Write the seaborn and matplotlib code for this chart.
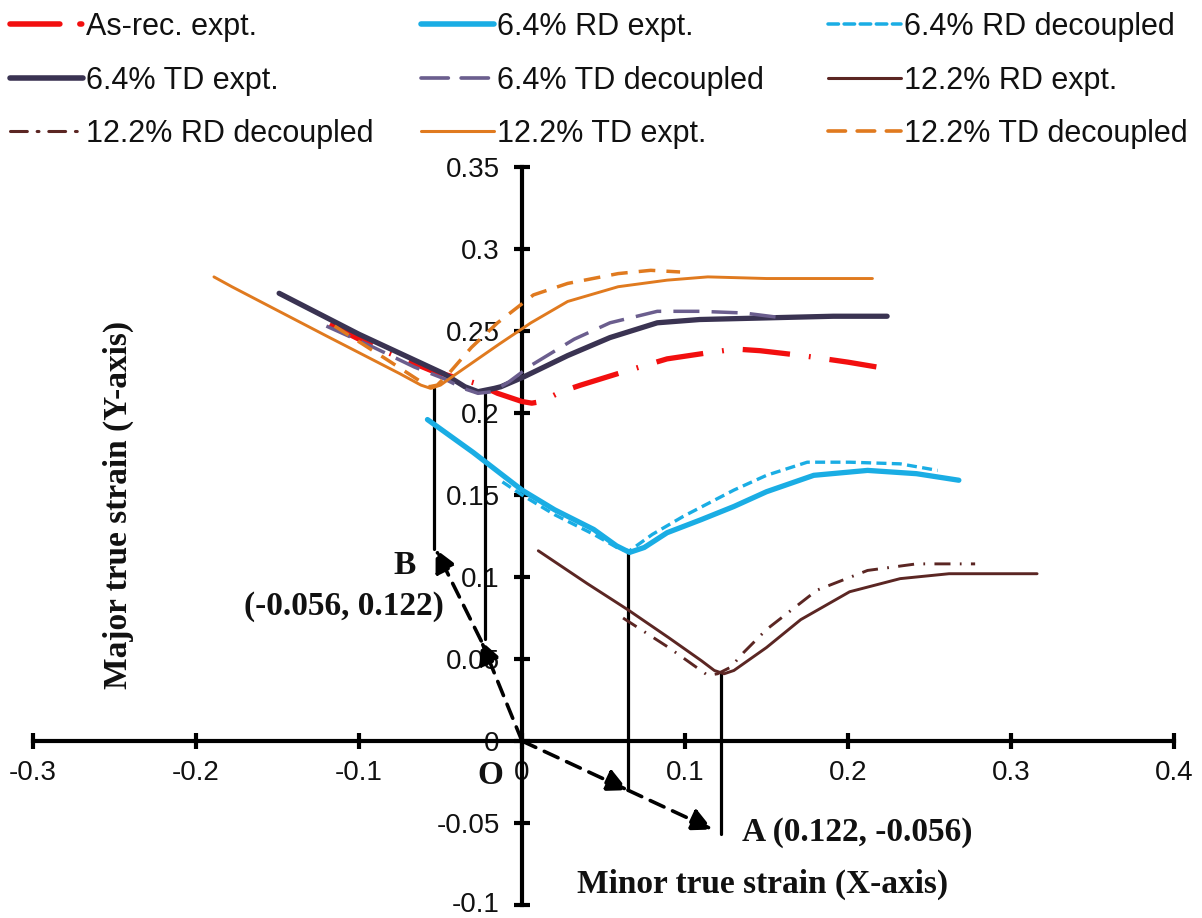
import numpy as np
import pandas as pd
import matplotlib
matplotlib.use("Agg")
import matplotlib.pyplot as plt
import matplotlib.transforms as mtransforms
import seaborn as sns
from matplotlib.lines import Line2D

sns.set_theme(style="white")
plt.rcParams['font.family'] = ['Liberation Sans', 'DejaVu Sans']

# ---------------- data ----------------
asrec_x = [-0.118, -0.090, -0.056, -0.028, -0.015, 0.000, 0.006, 0.012, 0.024, 0.036, 0.062, 0.089, 0.116, 0.131, 0.146, 0.172, 0.200, 0.224]
asrec_y = [0.254, 0.240, 0.226, 0.218, 0.212, 0.207, 0.206, 0.207, 0.213, 0.217, 0.225, 0.233, 0.237, 0.239, 0.238, 0.235, 0.231, 0.227]

rd64_x = [-0.058, -0.030, 0.000, 0.020, 0.044, 0.058, 0.066, 0.075, 0.089, 0.110, 0.130, 0.150, 0.179, 0.212, 0.242, 0.268]
rd64_y = [0.196, 0.176, 0.153, 0.141, 0.129, 0.119, 0.115, 0.118, 0.127, 0.135, 0.143, 0.152, 0.162, 0.165, 0.163, 0.159]

rd64d_x = [-0.012, 0.000, 0.020, 0.044, 0.060, 0.066, 0.080, 0.099, 0.130, 0.150, 0.175, 0.201, 0.232, 0.255]
rd64d_y = [0.158, 0.150, 0.138, 0.126, 0.117, 0.116, 0.126, 0.137, 0.153, 0.162, 0.170, 0.170, 0.169, 0.165]

td64_x = [-0.149, -0.100, -0.048, -0.035, -0.027, -0.017, -0.013, 0.001, 0.028, 0.054, 0.083, 0.109, 0.150, 0.191, 0.224]
td64_y = [0.273, 0.248, 0.224, 0.216, 0.213, 0.215, 0.216, 0.222, 0.235, 0.246, 0.255, 0.257, 0.258, 0.259, 0.259]

td64d_x = [-0.120, -0.091, -0.066, -0.048, -0.036, -0.027, -0.018, -0.008, 0.0055, 0.032, 0.054, 0.083, 0.109, 0.136, 0.160]
td64d_y = [0.253, 0.240, 0.228, 0.221, 0.215, 0.212, 0.213, 0.219, 0.229, 0.245, 0.255, 0.262, 0.262, 0.261, 0.258]

rd122_x = [0.010, 0.040, 0.065, 0.090, 0.110, 0.118, 0.124, 0.130, 0.150, 0.171, 0.201, 0.232, 0.262, 0.290, 0.316]
rd122_y = [0.116, 0.096, 0.080, 0.063, 0.049, 0.043, 0.041, 0.043, 0.057, 0.074, 0.091, 0.099, 0.102, 0.102, 0.102]

rd122d_x = [0.062, 0.090, 0.114, 0.120, 0.128, 0.136, 0.150, 0.181, 0.212, 0.242, 0.278]
rd122d_y = [0.075, 0.057, 0.040, 0.041, 0.045, 0.054, 0.068, 0.092, 0.104, 0.108, 0.108]

td122_x = [-0.189, -0.178, -0.120, -0.075, -0.062, -0.056, -0.050, -0.043, -0.014, 0.0055, 0.028, 0.059, 0.089, 0.114, 0.150, 0.191, 0.215]
td122_y = [0.283, 0.277, 0.247, 0.224, 0.217, 0.215, 0.217, 0.222, 0.242, 0.255, 0.268, 0.277, 0.281, 0.283, 0.282, 0.282, 0.282]

td122d_x = [-0.115, -0.082, -0.065, -0.057, -0.052, -0.045, -0.031, -0.015, 0.007, 0.028, 0.059, 0.079, 0.097]
td122d_y = [0.253, 0.232, 0.221, 0.216, 0.217, 0.224, 0.240, 0.255, 0.272, 0.279, 0.285, 0.287, 0.286]

labels = ["As-rec. expt.", "6.4% RD expt.", "6.4% RD decoupled",
          "6.4% TD expt.", "6.4% TD decoupled", "12.2% RD expt.",
          "12.2% RD decoupled", "12.2% TD expt.", "12.2% TD decoupled"]

# construction points (origin, intermediate, end)
pt_A = (0.122, -0.056)
pt_A_mid = (0.065, -0.030)
pt_B = (-0.053, 0.117)
pt_B_mid = (-0.025, 0.061)
vlines_x = [-0.054, -0.023, 0.065, 0.122]
vlines_top = [0.215, 0.213, 0.116, 0.041]
vlines_bot = [0.117, 0.062, -0.030, -0.057]

xticks = [-0.3, -0.2, -0.1, 0.0, 0.1, 0.2, 0.3, 0.4]
xtick_labels = ["-0.3", "-0.2", "-0.1", "0", "0.1", "0.2", "0.3", "0.4"]
yticks = [-0.1, -0.05, 0.0, 0.05, 0.1, 0.15, 0.2, 0.25, 0.3, 0.35]
ytick_labels = ["-0.1", "-0.05", "0", "0.05", "0.1", "0.15", "0.2", "0.25", "0.3", "0.35"]

# ---------------- figure ----------------
W, H = 1202, 918
fig = plt.figure(figsize=(W / 100, H / 100), dpi=100)
ax = fig.add_axes([33 / W, 1 - 905 / H, (1174 - 33) / W, (905 - 167) / H])
ax.set_xlim(-0.3, 0.4)
ax.set_ylim(-0.1, 0.35)

series = [
    (asrec_x, asrec_y, "#F20F0F", 3.8, (0, (9, 3.6, 0.35, 3.6))),
    (rd64_x, rd64_y, "#1AADE4", 3.8, "-"),
    (rd64d_x, rd64d_y, "#1AADE4", 2.4, (0, (3.0, 1.6))),
    (td64_x, td64_y, "#3A3352", 3.8, "-"),
    (td64d_x, td64d_y, "#6B5E8E", 2.5, (0, (7.5, 3.5))),
    (rd122_x, rd122_y, "#5B2623", 2.1, "-"),
    (rd122d_x, rd122d_y, "#5B2623", 2.1, (0, (5.5, 3.2, 0.6, 3.2))),
    (td122_x, td122_y, "#E07A1F", 2.1, "-"),
    (td122d_x, td122d_y, "#E07A1F", 2.5, (0, (4.8, 3.2))),
]

# vertical construction lines
for vx, vt, vb in zip(vlines_x, vlines_top, vlines_bot):
    ax.plot([vx, vx], [vb, vt], color="black", lw=2.3, zorder=2)

handles = []
for (xs, ys, col, lw, ls), lab in zip(series, labels):
    df = pd.DataFrame({"x": xs, "y": ys})
    sns.lineplot(data=df, x="x", y="y", ax=ax, sort=False, estimator=None,
                 color=col, linewidth=lw, zorder=3)
    ln = ax.lines[-1]
    ln.set_linestyle(ls)
    ln.set_solid_capstyle("round")
    ln.set_dash_capstyle("butt")
    h = Line2D([], [], color=col, lw=lw * 1.05, linestyle=ls)
    h.set_dash_capstyle("round")
    handles.append(h)

# dashed arrows from origin
arrow_kw = dict(arrowstyle="-|>", color="black", lw=2.6, linestyle=(0, (4.2, 2.6)),
                mutation_scale=34, shrinkA=0, shrinkB=0)
ax.annotate("", xy=pt_A_mid, xytext=(0, 0), arrowprops=arrow_kw, zorder=4)
ax.annotate("", xy=(pt_A[0] - 0.005, pt_A[1] + 0.002), xytext=pt_A_mid, arrowprops=arrow_kw, zorder=4)
ax.annotate("", xy=pt_B_mid, xytext=(0, 0), arrowprops=arrow_kw, zorder=4)
ax.annotate("", xy=pt_B, xytext=pt_B_mid, arrowprops=arrow_kw, zorder=4)

# spines through origin
for s in ["top", "right"]:
    ax.spines[s].set_visible(False)
ax.spines["left"].set_position(("data", 0))
ax.spines["bottom"].set_position(("data", 0))
for s in ["left", "bottom"]:
    ax.spines[s].set_linewidth(3)
    ax.spines[s].set_color("black")
    ax.spines[s].set_zorder(1)

ax.set_xticks(xticks)
ax.set_xticklabels(xtick_labels)
ax.set_yticks(yticks)
ax.set_yticklabels(ytick_labels)
ax.tick_params(axis="both", direction="inout", length=12, width=3, color="black",
               labelsize=20, labelcolor="#111111", bottom=True, left=True,
               top=False, right=False)
ax.tick_params(axis="x", pad=8)
ax.tick_params(axis="y", pad=10)
ax.set_xlabel("")
ax.set_ylabel("")
ax.grid(False)
ax.patch.set_alpha(0)

# nudge the lowest y label so it stays inside the canvas
lowest = ax.get_yticklabels()[0]
lowest.set_transform(lowest.get_transform() +
                     mtransforms.ScaledTranslation(0, 3 / 100, fig.dpi_scale_trans))

serif = dict(family=["Liberation Serif", "DejaVu Serif"], weight="bold", size=24, color="#111111")
fig.text(118 / W, 1 - 505 / H, "Major true strain (Y-axis)", rotation=90,
         ha="center", va="center", **serif)
fig.text(763 / W, 1 - 884 / H, "Minor true strain (X-axis)", ha="center", va="center", **serif)
fig.text(742 / W, 1 - 832 / H, "A (0.122, -0.056)", ha="left", va="center", **serif)
fig.text(405 / W, 1 - 565 / H, "B", ha="center", va="center", **serif)
fig.text(344 / W, 1 - 607 / H, "(-0.056, 0.122)", ha="center", va="center", **serif)
fig.text(490 / W, 1 - 775 / H, "O", ha="center", va="center", **serif)

# legend: three columns, each its own legend block
columns = [[0, 3, 6], [1, 4, 7], [2, 5, 8]]
col_x = [10, 421, 828]
for idx, cx in zip(columns, col_x):
    fig.legend([handles[i] for i in idx], [labels[i] for i in idx],
               loc="upper left", bbox_to_anchor=(cx / W, 1 - 12 / H), ncol=1,
               frameon=False, fontsize=22, handlelength=2.4, handletextpad=0.1,
               labelspacing=0.77, borderpad=0, borderaxespad=0,
               labelcolor="#111111")

fig.savefig("out.png", dpi=100, facecolor="white")
